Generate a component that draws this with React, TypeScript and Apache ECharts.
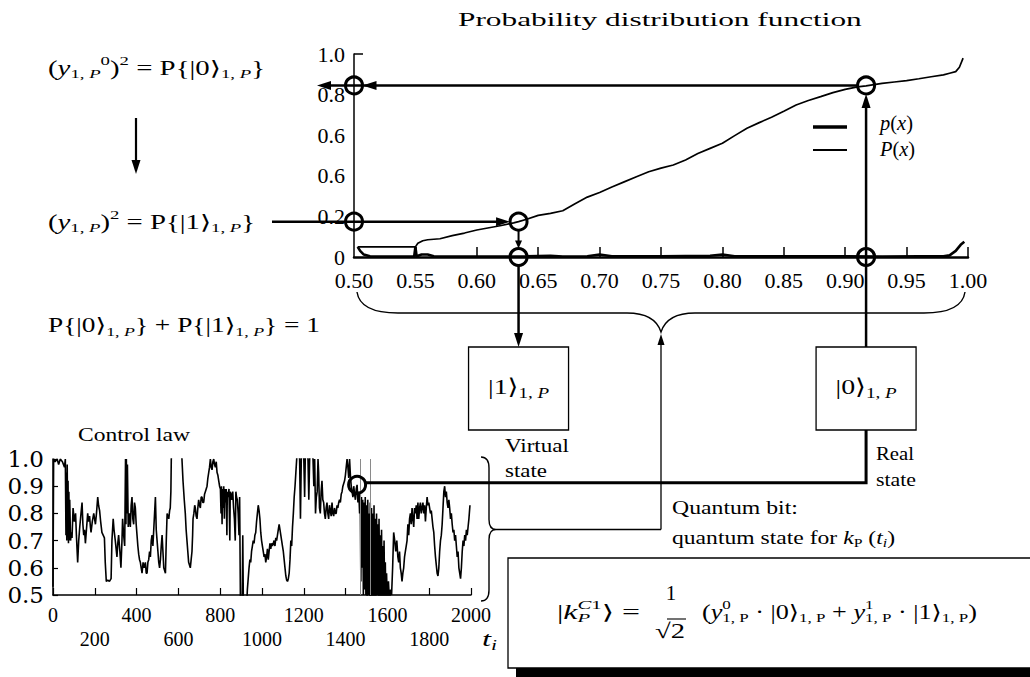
import React, { useEffect, useRef } from "react";
import * as echarts from "echarts";

const SERIF = '"Liberation Serif", "Times New Roman", "DejaVu Serif", serif';
const WIDE = '"DejaVu Serif", serif';

// ---------- texts ----------
const pdfTitle = "Probability distribution function";
const lawTitle = "Control law";

// ---------- top chart (probability distribution) ----------
const xTickMarksTop = [0.55, 0.6, 0.65, 0.7, 0.75, 0.8, 0.85, 0.9, 0.95, 1.0];
const yTickValuesTop = [0, 0.2, 0.4, 0.6, 0.8, 1.0];
const yTickLabelsTop = ["0", "0.2", "0.6", "0.6", "0.8", "1.0"];

// P(x) – thin line
const cdfCurve: number[][] = [
  [0.503, 0.05], [0.52, 0.05], [0.54, 0.05], [0.55, 0.05], [0.552, 0.068], [0.556, 0.08],
  [0.56, 0.085], [0.57, 0.09], [0.58, 0.105], [0.59, 0.118], [0.6, 0.133], [0.61, 0.144],
  [0.62, 0.155], [0.63, 0.168], [0.634, 0.174], [0.64, 0.185], [0.65, 0.205], [0.66, 0.215],
  [0.67, 0.228], [0.68, 0.262], [0.69, 0.295], [0.7, 0.318], [0.71, 0.345], [0.72, 0.37],
  [0.73, 0.395], [0.74, 0.42], [0.75, 0.438], [0.76, 0.453], [0.77, 0.478], [0.78, 0.51],
  [0.79, 0.535], [0.8, 0.56], [0.81, 0.598], [0.82, 0.634], [0.83, 0.662], [0.84, 0.688],
  [0.85, 0.718], [0.86, 0.749], [0.87, 0.771], [0.88, 0.79], [0.89, 0.81], [0.9, 0.826],
  [0.91, 0.838], [0.917, 0.843], [0.93, 0.855], [0.94, 0.862], [0.95, 0.869], [0.96, 0.878],
  [0.97, 0.888], [0.98, 0.897], [0.985, 0.905], [0.99, 0.913], [0.993, 0.935], [0.996, 0.98]
];

// p(x) – thick line near zero
const pdfCurve: number[][] = [
  [0.503, 0.05], [0.505, 0.03], [0.508, 0.012], [0.513, 0.004], [0.53, 0.002], [0.549, 0.002],
  [0.55, 0.05], [0.551, 0.004], [0.555, 0.012], [0.56, 0.012], [0.565, 0.004], [0.6, 0.002],
  [0.64, 0.003], [0.66, 0.006], [0.67, 0.002], [0.69, 0.004], [0.7, 0.012], [0.71, 0.004],
  [0.75, 0.003], [0.79, 0.006], [0.8, 0.012], [0.81, 0.004], [0.85, 0.003], [0.9, 0.003],
  [0.93, 0.002], [0.96, 0.004], [0.98, 0.003], [0.985, 0.008], [0.99, 0.03], [0.994, 0.06],
  [0.997, 0.075]
];

const X_VIRTUAL = 0.634;
const Y_VIRTUAL = 0.174;
const X_REAL = 0.917;
const Y_REAL = 0.845;

// ---------- bottom chart (control law) ----------
const controlLaw: number[][] = [
  [0, 0.53], [3, 1.0], [10, 0.99], [20, 1.0], [27, 0.98], [35, 1.0], [45, 0.99], [55, 0.97], [59, 1.0],
  [62, 0.72], [64, 0.95], [66, 0.7], [68, 0.98], [70, 0.74], [72, 0.92], [74, 0.69], [76, 0.88], [78, 0.7],
  [80, 0.85], [84, 0.7], [88, 0.73], [91, 0.71], [96, 0.82], [102, 0.77], [108, 0.8], [112, 0.72],
  [118, 0.62], [123, 0.7], [128, 0.75], [134, 0.8], [139, 0.84], [143, 0.76], [147, 0.72], [151, 0.74],
  [155, 0.69], [160, 0.74], [166, 0.8], [170, 0.77], [175, 0.79], [179, 0.75], [182, 0.73], [188, 0.77],
  [195, 0.8], [199, 0.78], [203, 0.76], [208, 0.8], [214, 0.86], [218, 0.83], [223, 0.81], [228, 0.77],
  [234, 0.73], [240, 0.72], [246, 0.71], [250, 0.62], [255, 0.55], [262, 0.555], [270, 0.55], [278, 0.56],
  [282, 0.7], [288, 0.78], [292, 0.74], [298, 0.7], [306, 0.64], [310, 0.69], [314, 0.72], [320, 0.66],
  [325, 0.6], [330, 0.7], [333, 0.78], [338, 0.72], [343, 0.68], [347, 1.0], [349, 0.76], [351, 1.0],
  [353, 0.8], [356, 0.98], [360, 0.75], [366, 0.8], [370, 0.75], [374, 0.83], [378, 0.86], [382, 0.78],
  [386, 0.76], [390, 0.84], [394, 0.82], [398, 0.76], [402, 0.72], [406, 0.68], [410, 0.65], [414, 0.63],
  [418, 0.62], [422, 0.6], [426, 0.58], [431, 0.62], [436, 0.6], [442, 0.62], [446, 0.58], [450, 0.58],
  [454, 0.62], [458, 0.63], [462, 0.66], [466, 0.64], [470, 0.7], [474, 0.72], [478, 0.68], [482, 0.74],
  [486, 0.8], [490, 0.86], [494, 0.74], [498, 0.7], [502, 0.66], [506, 0.62], [510, 0.6], [514, 0.63],
  [518, 0.68], [522, 0.72], [526, 0.66], [530, 0.6], [534, 0.59], [538, 0.58], [542, 0.7], [546, 0.8],
  [550, 0.79], [554, 0.78], [558, 0.81], [561, 0.82], [564, 0.88], [566, 1.0], [575, 1.08], [610, 1.08],
  [617, 1.0], [622, 0.92], [628, 0.85], [633, 0.8], [637, 0.74], [641, 0.7], [645, 0.66], [649, 0.62],
  [653, 0.61], [657, 0.6], [661, 0.63], [665, 0.66], [668, 0.72], [670, 0.78], [674, 0.8], [678, 0.83],
  [681, 0.82], [685, 0.79], [689, 0.78], [693, 0.82], [697, 0.85], [701, 0.83], [705, 0.82], [709, 0.86],
  [713, 0.86], [717, 0.84], [721, 0.84], [725, 0.87], [729, 0.88], [733, 0.89], [737, 0.9], [741, 0.93],
  [745, 0.95], [749, 0.97], [753, 1.0], [757, 0.97], [761, 0.96], [765, 0.99], [769, 1.0], [773, 0.98],
  [777, 0.97], [781, 0.99], [785, 0.95], [789, 0.94], [793, 0.92], [797, 0.9], [801, 0.89], [804, 0.8],
  [806, 0.9], [809, 0.76], [811, 0.89], [814, 0.82], [817, 0.9], [820, 0.78], [823, 0.89], [826, 0.84],
  [829, 0.89], [832, 0.72], [834, 0.88], [838, 0.86], [842, 0.89], [846, 0.7], [848, 0.88], [852, 0.87],
  [856, 0.85], [860, 0.88], [864, 0.82], [868, 0.78], [872, 0.7], [875, 0.88], [878, 0.86], [882, 0.85],
  [886, 0.8], [890, 0.72], [893, 0.86], [897, 0.45], [905, 0.45], [908, 0.72], [911, 0.45], [926, 0.45],
  [930, 0.52], [934, 0.56], [938, 0.6], [942, 0.63], [946, 0.62], [950, 0.66], [954, 0.68], [958, 0.7],
  [962, 0.69], [966, 0.72], [970, 0.73], [974, 0.77], [978, 0.8], [982, 0.83], [986, 0.81], [990, 0.78],
  [994, 0.73], [998, 0.7], [1002, 0.68], [1006, 0.66], [1010, 0.64], [1014, 0.65], [1018, 0.62],
  [1022, 0.64], [1026, 0.67], [1030, 0.63], [1034, 0.66], [1038, 0.69], [1042, 0.67], [1046, 0.69],
  [1050, 0.68], [1054, 0.69], [1058, 0.7], [1062, 0.68], [1066, 0.71], [1070, 0.7], [1074, 0.72],
  [1078, 0.74], [1082, 0.76], [1086, 0.74], [1090, 0.72], [1094, 0.7], [1098, 0.68], [1102, 0.66],
  [1106, 0.63], [1110, 0.6], [1114, 0.57], [1118, 0.555], [1122, 0.55], [1126, 0.56], [1130, 0.58],
  [1134, 0.63], [1138, 0.7], [1142, 0.68], [1146, 0.75], [1150, 0.8], [1154, 0.86], [1158, 0.9],
  [1162, 0.95], [1166, 1.0], [1170, 1.05], [1180, 1.0], [1184, 0.78], [1188, 1.0], [1192, 1.05],
  [1200, 1.0], [1204, 0.86], [1207, 1.0], [1214, 1.05], [1220, 1.0], [1224, 0.85], [1228, 1.0],
  [1236, 1.05], [1244, 1.0], [1248, 0.9], [1252, 1.0], [1256, 0.8], [1260, 0.86], [1264, 0.88],
  [1268, 1.0], [1271, 0.95], [1275, 0.82], [1279, 0.8], [1283, 0.88], [1287, 0.92], [1291, 0.85],
  [1295, 0.84], [1299, 0.8], [1303, 0.78], [1307, 0.82], [1311, 0.84], [1315, 0.8], [1319, 0.78],
  [1323, 0.83], [1327, 0.81], [1331, 0.79], [1335, 0.84], [1339, 0.8], [1343, 0.79], [1347, 0.82],
  [1351, 0.8], [1355, 0.8], [1359, 0.83], [1363, 0.82], [1367, 0.84], [1371, 0.85], [1375, 0.84],
  [1379, 0.87], [1383, 0.88], [1387, 0.9], [1391, 0.91], [1395, 0.92], [1399, 0.94], [1403, 0.97],
  [1407, 1.0], [1411, 0.97], [1415, 0.93], [1419, 1.0], [1423, 0.94], [1427, 0.9], [1431, 0.88],
  [1435, 0.86], [1439, 0.9], [1443, 0.87], [1447, 0.85], [1451, 0.89], [1455, 0.905], [1459, 0.84],
  [1463, 0.88], [1467, 0.8], [1470, 0.88], [1473, 0.55], [1476, 0.86], [1479, 0.6], [1482, 0.85],
  [1485, 0.5], [1488, 0.84], [1491, 0.52], [1494, 0.86], [1497, 0.5], [1500, 0.83], [1503, 0.48],
  [1506, 0.85], [1509, 0.5], [1512, 0.8], [1515, 0.48], [1518, 0.84], [1521, 0.46], [1524, 0.82],
  [1527, 0.48], [1530, 0.8], [1533, 0.46], [1536, 0.83], [1539, 0.48], [1542, 0.78], [1545, 0.46],
  [1548, 0.8], [1551, 0.5], [1554, 0.76], [1557, 0.46], [1560, 0.78], [1563, 0.48], [1566, 0.72],
  [1569, 0.46], [1572, 0.74], [1575, 0.46], [1578, 0.68], [1581, 0.46], [1584, 0.7], [1587, 0.48],
  [1590, 0.62], [1593, 0.46], [1596, 0.58], [1600, 0.46], [1605, 0.55], [1610, 0.47], [1615, 0.52],
  [1620, 0.5], [1625, 0.6], [1630, 0.73], [1635, 0.7], [1640, 0.66], [1645, 0.7], [1650, 0.64],
  [1654, 0.62], [1658, 0.66], [1662, 0.6], [1666, 0.58], [1670, 0.55], [1674, 0.58], [1678, 0.6],
  [1682, 0.64], [1686, 0.66], [1690, 0.68], [1694, 0.7], [1698, 0.76], [1702, 0.72], [1706, 0.78],
  [1710, 0.8], [1714, 0.76], [1718, 0.82], [1722, 0.78], [1726, 0.75], [1730, 0.82], [1734, 0.8],
  [1738, 0.83], [1742, 0.78], [1746, 0.84], [1750, 0.78], [1754, 0.82], [1758, 0.84], [1762, 0.8],
  [1766, 0.82], [1770, 0.84], [1774, 0.8], [1778, 0.83], [1782, 0.77], [1786, 0.82], [1790, 0.86],
  [1794, 0.83], [1798, 0.84], [1802, 0.82], [1806, 0.8], [1810, 0.81], [1814, 0.78], [1818, 0.75],
  [1822, 0.73], [1826, 0.68], [1830, 0.64], [1834, 0.61], [1838, 0.58], [1842, 0.57], [1846, 0.6],
  [1850, 0.66], [1854, 0.7], [1858, 0.72], [1862, 0.76], [1866, 0.82], [1870, 0.88], [1874, 0.9],
  [1878, 0.86], [1882, 0.88], [1886, 0.84], [1890, 0.82], [1894, 0.85], [1898, 0.82], [1902, 0.78],
  [1906, 0.8], [1910, 0.76], [1914, 0.73], [1918, 0.74], [1922, 0.7], [1926, 0.72], [1930, 0.68],
  [1934, 0.64], [1938, 0.66], [1942, 0.6], [1946, 0.58], [1950, 0.56], [1954, 0.6], [1958, 0.66],
  [1962, 0.7], [1966, 0.68], [1970, 0.72], [1974, 0.7], [1978, 0.74], [1982, 0.72], [1986, 0.75],
  [1990, 0.78], [1995, 0.83]
];
const grayVerticals = [1468, 1518];
const T_NOW = 1455;
const K_NOW = 0.905;

// ---------- text helpers ----------
type Tok = [string, string];
let mctx: CanvasRenderingContext2D | null = null;
function tw(text: string, size: number, italic: boolean) {
  if (!mctx) mctx = document.createElement("canvas").getContext("2d");
  if (!mctx) return text.length * size * 0.5;
  mctx.font = `${italic ? "italic " : ""}${size}px ${SERIF}`;
  return mctx.measureText(text).width;
}
function txt(x: number, y: number, text: string, fs: number, italic: boolean, sx: number, extra: any = {}) {
  return {
    type: "text", x, y, scaleX: sx, z: 60,
    style: {
      text, fontSize: fs, fontFamily: SERIF, fontStyle: italic ? "italic" : "normal", fill: "#000",
      align: "left", textAlign: "left", verticalAlign: "middle", textVerticalAlign: "middle", ...extra
    }
  };
}
function mathBlock(x0: number, y: number, size: number, toks: Tok[], opts: { width?: number; align?: string } = {}) {
  const parts = toks.map(([t, k]) => {
    const sub = k[0] === "b";
    const sup = k[0] === "p";
    const italic = k.includes("i");
    const noAdv = k.endsWith("0");
    const fs = sub || sup ? Math.round(size * 0.66) : size;
    const dy = sub ? size * 0.3 : sup ? -size * 0.36 : 0;
    return { t, fs, italic, dy, noAdv, w: tw(t, fs, italic) };
  });
  let nat = 0;
  let pending = 0;
  for (const p of parts) {
    if (p.noAdv) pending = p.w;
    else { nat += Math.max(p.w, pending); pending = 0; }
  }
  nat += pending;
  const s = opts.width ? opts.width / nat : 1;
  let x = opts.align === "center" ? x0 - (nat * s) / 2 : x0;
  const els: any[] = [];
  pending = 0;
  for (const p of parts) {
    els.push(txt(x, y + p.dy, p.t, p.fs, p.italic, s));
    if (p.noAdv) pending = p.w;
    else { x += Math.max(p.w, pending) * s; pending = 0; }
  }
  return els;
}

const BLACK = "#000";
function line(x1: number, y1: number, x2: number, y2: number, w = 2.5, color = BLACK) {
  return { type: "line", z: 40, shape: { x1, y1, x2, y2 }, style: { stroke: color, lineWidth: w } };
}
function head(tx: number, ty: number, dir: "l" | "r" | "u" | "d", len = 14, hw = 4.5) {
  let pts: number[][];
  if (dir === "l") pts = [[tx, ty], [tx + len, ty - hw], [tx + len, ty + hw]];
  else if (dir === "r") pts = [[tx, ty], [tx - len, ty - hw], [tx - len, ty + hw]];
  else if (dir === "u") pts = [[tx, ty], [tx - hw, ty + len], [tx + hw, ty + len]];
  else pts = [[tx, ty], [tx - hw, ty - len], [tx + hw, ty - len]];
  return { type: "polygon", z: 41, shape: { points: pts }, style: { fill: BLACK } };
}
function ring(cx: number, cy: number, r = 8.5) {
  return { type: "circle", z: 45, shape: { cx, cy, r }, style: { fill: "none", stroke: BLACK, lineWidth: 3 } };
}

export default function App() {
  const ref = useRef<HTMLDivElement>(null);
  useEffect(() => {
    if (!ref.current) return;
    const chart = echarts.init(ref.current, null, { renderer: "svg" });
    const axisLine = (w: number) => ({ show: true, lineStyle: { color: BLACK, width: w } });
    chart.setOption({
      animation: false,
      backgroundColor: "#fff",
      textStyle: { fontFamily: SERIF, color: BLACK },
      grid: [
        { left: 354, top: 54, width: 614, height: 203 },
        { left: 53, top: 459, width: 418, height: 136 }
      ],
      xAxis: [
        {
          gridIndex: 0, type: "value", min: 0.5, max: 1.0, interval: 0.05,
          axisLine: axisLine(2.5),
          axisTick: { show: true, inside: true, length: 10, customValues: xTickMarksTop, lineStyle: { color: BLACK, width: 1.5 } },
          splitLine: { show: false },
          axisLabel: { fontFamily: SERIF, fontSize: 22, color: BLACK, margin: 12, formatter: (v: number) => v.toFixed(2) }
        },
        {
          gridIndex: 1, type: "value", min: 0, max: 2000, interval: 200,
          axisLine: axisLine(1.5),
          axisTick: { show: true, inside: true, length: 7, lineStyle: { color: BLACK, width: 1.2 } },
          splitLine: { show: false },
          axisLabel: {
            fontFamily: SERIF, fontSize: 20, color: BLACK, margin: 8, lineHeight: 24,
            formatter: (v: number) => (v % 400 === 0 ? String(v) : "\n" + v)
          }
        }
      ],
      yAxis: [
        {
          gridIndex: 0, type: "value", min: 0, max: 1, interval: 0.2,
          axisLine: axisLine(1.5),
          axisTick: { show: true, inside: true, length: 9, customValues: [1.0], lineStyle: { color: BLACK, width: 1.5 } },
          splitLine: { show: false },
          axisLabel: {
            fontFamily: SERIF, fontSize: 22, color: BLACK, margin: 9,
            formatter: (v: number) => {
              const i = yTickValuesTop.findIndex((t) => Math.abs(t - v) < 1e-6);
              return i >= 0 ? yTickLabelsTop[i] : "";
            }
          }
        },
        {
          gridIndex: 1, type: "value", min: 0.5, max: 1.0, interval: 0.1,
          axisLine: axisLine(1.5),
          axisTick: { show: true, inside: true, length: 5, lineStyle: { color: BLACK, width: 1.2 } },
          splitLine: { show: false },
          axisLabel: { fontFamily: WIDE, fontSize: 23, color: BLACK, margin: 9, formatter: (v: number) => v.toFixed(1) }
        }
      ],
      series: [
        {
          name: "P(x)", type: "line", xAxisIndex: 0, yAxisIndex: 0, data: cdfCurve, symbol: "none",
          showSymbol: false, clip: true, lineStyle: { color: BLACK, width: 1.7 }, z: 3
        },
        {
          name: "p(x)", type: "line", xAxisIndex: 0, yAxisIndex: 0, data: pdfCurve, symbol: "none",
          showSymbol: false, clip: true, lineStyle: { color: BLACK, width: 2.6 }, z: 4
        },
        {
          name: "Control law", type: "line", xAxisIndex: 1, yAxisIndex: 1, data: controlLaw, symbol: "none",
          showSymbol: false, clip: true, lineStyle: { color: BLACK, width: 1.6 }, z: 3,
          markLine: {
            silent: true, symbol: "none", label: { show: false },
            lineStyle: { color: "#8a8a8a", width: 1, type: "solid" },
            data: grayVerticals.map((t) => ({ xAxis: t }))
          }
        }
      ]
    });

    const P = (g: number, x: number, y: number) => chart.convertToPixel({ gridIndex: g } as any, [x, y]) as number[];
    const [ax, ay] = P(0, 0.5, Y_REAL);
    const [bx, by] = P(0, X_REAL, Y_REAL);
    const [cx, cy] = P(0, 0.5, Y_VIRTUAL);
    const [dx, dy] = P(0, X_VIRTUAL, Y_VIRTUAL);
    const [ex, ey] = P(0, X_VIRTUAL, 0);
    const [fx, fy] = P(0, X_REAL, 0);
    const [gx, gy] = P(1, T_NOW, K_NOW);
    const [lx, ly] = P(0, 0.5, 0);
    const [rx] = P(0, 1.0, 0);
    const [mx] = P(0, 0.75, 0);
    const [, lawTop] = P(1, 0, 1.0);
    const [lawRight, lawBottom] = P(1, 2000, 0.5);
    const R = 8.5;

    // braces
    const bTop = ly + 35, bH = ly + 56, bCusp = ly + 75;
    const dTop = `M${lx + 3},${bTop} Q${lx + 6},${bH} ${lx + 44},${bH} L${mx - 34},${bH} Q${mx - 6},${bH} ${mx},${bCusp} Q${mx + 6},${bH} ${mx + 34},${bH} L${rx - 44},${bH} Q${rx - 6},${bH} ${rx - 3},${bTop}`;
    echarts.graphic.registerShape("braceTop", echarts.graphic.extendPath(dTop, {}) as any);
    const vx = lawRight + 18, vt = lawTop - 2, vb = lawBottom + 6, vm = (vt + vb) / 2 + 0.5;
    const dSide = `M${vx - 8},${vt} Q${vx},${vt} ${vx},${vt + 11} L${vx},${vm - 10} Q${vx},${vm} ${vx + 7},${vm} Q${vx},${vm} ${vx},${vm + 10} L${vx},${vb - 11} Q${vx},${vb} ${vx - 8},${vb}`;
    echarts.graphic.registerShape("braceSide", echarts.graphic.extendPath(dSide, {}) as any);

    const boxTop = 347, boxH = 83;
    const els: any[] = [];

    // horizontal read-out arrow at P = Y_REAL
    els.push(line(bx - R, by, 330, by));
    els.push(head(317, by, "l"));
    els.push(head(ax + R, ay, "l"));
    // arrow from formula to the curve at Y_VIRTUAL
    els.push(line(272, cy, dx - R - 6, cy));
    els.push(head(dx - R, dy, "r"));
    // virtual: curve point -> axis point -> box |1>
    els.push(line(dx, dy + R, dx, ey - R - 6, 2));
    els.push(head(ex, ey - R, "d", 8, 3.5));
    els.push(line(ex, ey + R, ex, boxTop - 8));
    els.push(head(ex, boxTop, "d"));
    // real: box |0> -> axis point -> curve point
    els.push(line(fx, boxTop, fx, by + R + 8));
    els.push(head(bx, by + R, "u"));
    els.push({ type: "polyline", z: 40, shape: { points: [[fx, boxTop + boxH], [fx, gy - 2], [gx + R - 1, gy - 2]] }, style: { stroke: BLACK, lineWidth: 3, fill: "none" } });
    // circles
    [[ax, ay], [bx, by], [cx, cy], [dx, dy], [ex, ey], [fx, fy], [gx, gy]].forEach(([x, y]) => els.push(ring(x, y, R)));
    // boxes
    els.push({ type: "rect", z: 30, shape: { x: ex - 50, y: boxTop, width: 100, height: boxH }, style: { fill: "#fff", stroke: BLACK, lineWidth: 1.3 } });
    els.push({ type: "rect", z: 30, shape: { x: fx - 50, y: boxTop, width: 100, height: boxH }, style: { fill: "#fff", stroke: BLACK, lineWidth: 1.3 } });
    // braces and quantum-bit connector
    els.push({ type: "braceTop", z: 35, style: { fill: "none", stroke: BLACK, lineWidth: 1.4 } });
    els.push({ type: "braceSide", z: 35, style: { fill: "none", stroke: BLACK, lineWidth: 1.4 } });
    els.push(line(vx + 7, vm, mx, vm, 1.3));
    els.push(line(mx, vm, mx, bCusp + 10, 1.3));
    els.push(head(mx, bCusp + 2, "u", 11, 3.5));
    // left vertical arrow
    els.push(line(136, 118, 136, 162, 2.2));
    els.push(head(136, 174, "d", 14, 4.5));
    // legend
    els.push(line(813, 127, 847, 127, 3.6));
    els.push(line(813, 150, 847, 150, 2));
    els.push(...mathBlock(880, 123, 21, [["p", "i"], ["(", "n"], ["x", "i"], [")", "n"]], { width: 33 }));
    els.push(...mathBlock(880, 149, 21, [["P", "i"], ["(", "n"], ["x", "i"], [")", "n"]], { width: 35 }));
    // formula box with shadow
    els.push({ type: "rect", z: 20, shape: { x: 516, y: 664, width: 530, height: 14 }, style: { fill: BLACK } });
    els.push({ type: "rect", z: 21, shape: { x: 508, y: 558, width: 540, height: 110 }, style: { fill: "#fff", stroke: BLACK, lineWidth: 1.3 } });

    // texts
    els.push(...mathBlock(458, 20, 18, [[pdfTitle, "n"]], { width: 404 }));
    els.push(...mathBlock(78, 435, 18, [[lawTitle, "n"]], { width: 112 }));
    els.push(...mathBlock(48, 68, 20, [["(", "n"], ["y", "i"], ["1, ", "b"], ["P", "bi"], ["0", "p"], [")", "n"], ["2", "p"], [" = P{|0⟩", "n"], ["1, ", "b"], ["P", "bi"], ["}", "n"]], { width: 217 }));
    els.push(...mathBlock(48, 222, 20, [["(", "n"], ["y", "i"], ["1, ", "b"], ["P", "bi"], [")", "n"], ["2", "p"], [" = P{|1⟩", "n"], ["1, ", "b"], ["P", "bi"], ["}", "n"]], { width: 207 }));
    els.push(...mathBlock(48, 325, 20, [["P{|0⟩", "n"], ["1, ", "b"], ["P", "bi"], ["} + P{|1⟩", "n"], ["1, ", "b"], ["P", "bi"], ["} = 1", "n"]], { width: 272 }));
    els.push(...mathBlock(ex, 387, 22, [["|1⟩", "n"], ["1, ", "b"], ["P", "bi"]], { width: 61, align: "center" }));
    els.push(...mathBlock(fx, 387, 22, [["|0⟩", "n"], ["1, ", "b"], ["P", "bi"]], { width: 61, align: "center" }));
    els.push(...mathBlock(505, 446, 18, [["Virtual", "n"]], { width: 64 }));
    els.push(...mathBlock(505, 471, 18, [["state", "n"]], { width: 42 }));
    els.push(...mathBlock(876, 454, 18, [["Real", "n"]], { width: 38 }));
    els.push(...mathBlock(876, 480, 18, [["state", "n"]], { width: 40 }));
    els.push(...mathBlock(672, 508, 18, [["Quantum bit:", "n"]], { width: 126 }));
    els.push(...mathBlock(672, 538, 18, [["quantum state for ", "n"], ["k", "i"], ["P", "b"], [" (", "n"], ["t", "i"], ["i", "bi"], [")", "n"]], { width: 223 }));
    els.push(...mathBlock(482, 639, 21, [["t", "i"], ["i", "bi"]], { width: 15 }));
    // quantum state formula
    els.push(...mathBlock(557, 612, 20, [["|", "n"], ["k", "i"], ["P", "bi0"], ["C", "pi"], ["1", "p"], ["⟩ =", "n"]], { width: 83 }));
    els.push(...mathBlock(671, 593, 21, [["1", "n"]], { align: "center" }));
    els.push(...mathBlock(670, 631, 21, [["√2", "n"]], { width: 30, align: "center" }));
    els.push(line(667, 619, 686, 619, 1.1));
    els.push(...mathBlock(702, 612, 20, [["(", "n"], ["y", "i"], ["0", "p0"], ["1, P", "b"], [" · |0⟩", "n"], ["1, P", "b"], [" + ", "n"], ["y", "i"], ["1", "p0"], ["1, P", "b"], [" · |1⟩", "n"], ["1, P", "b"], [")", "n"]], { width: 275 }));

    chart.setOption({ graphic: { elements: els } });
    return () => chart.dispose();
  }, []);
  return <div ref={ref} style={{ position: "absolute", left: 0, top: 0, width: 1030, height: 677, background: "#fff" }} />;
}
